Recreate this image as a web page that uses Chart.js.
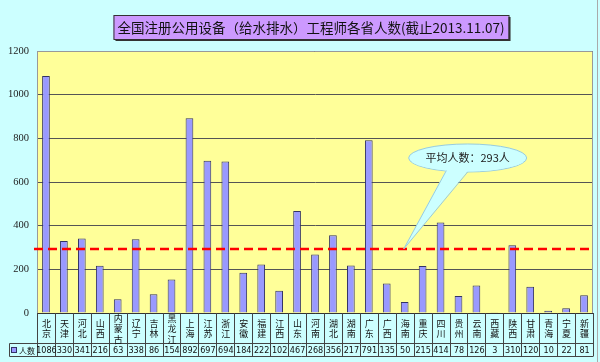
<!DOCTYPE html>
<html>
<head>
<meta charset="utf-8">
<script src="https://cdn.jsdelivr.net/npm/chart.js@4.4.0/dist/chart.umd.min.js"></script>
<style>
  html, body { margin: 0; padding: 0; background: #ccffff; }
  #wrap { width: 600px; height: 362px; }
</style>
</head>
<body>
<div id="wrap"><canvas id="chart"></canvas></div>
<script>
// data
const provinces = ["北京","天津","河北","山西","内蒙古","辽宁","吉林","黑龙江","上海","江苏","浙江","安徽","福建","江西","山东","河南","湖北","湖南","广东","广西","海南","重庆","四川","贵州","云南","西藏","陕西","甘肃","青海","宁夏","新疆"];
const counts = [1086,330,341,216,63,338,86,154,892,697,694,184,222,102,467,268,356,217,791,135,50,215,414,78,126,3,310,120,10,22,81];
const yTicks = [0,200,400,600,800,1000,1200];
const average = 293;
const seriesName = "人数";
const titleText = "全国注册公用设备（给水排水）工程师各省人数(截止2013.11.07)";
const calloutText = "平均人数：293人";

const CJK = '"Noto Sans CJK SC", "DejaVu Sans", sans-serif';
const NUM = '"Liberation Sans Narrow", "DejaVu Sans Condensed", "Liberation Sans", sans-serif';

// background, plot fill, avg line, callout, title box, data table
const decor = {
  id: 'decor',
  beforeDraw(chart) {
    const { ctx, chartArea: a } = chart;
    ctx.save();
    ctx.fillStyle = '#ccffff';
    ctx.fillRect(0, 0, chart.width, chart.height);
    ctx.fillStyle = '#ffff99';
    ctx.fillRect(a.left, a.top, a.right - a.left, a.bottom - a.top);
    ctx.restore();
  },
  afterDatasetsDraw(chart) {
    const { ctx, chartArea: a, scales: { x, y } } = chart;
    ctx.save();
    // plot border top/right
    ctx.strokeStyle = '#999999';
    ctx.lineWidth = 1;
    ctx.beginPath();
    ctx.moveTo(a.left, a.top + 0.5);
    ctx.lineTo(a.right - 0.5, a.top + 0.5);
    ctx.lineTo(a.right - 0.5, a.bottom);
    ctx.stroke();

    // average line
    const ay = y.getPixelForValue(average);
    ctx.strokeStyle = '#ff0000';
    ctx.lineWidth = 2.5;
    ctx.setLineDash([9, 5]);
    ctx.beginPath();
    ctx.moveTo(a.left - 3, ay);
    ctx.lineTo(a.right, ay);
    ctx.stroke();
    ctx.setLineDash([]);

    // callout
    const tipX = x.getPixelForValue(20) - 1;
    const cx = tipX + 64, cy = y.getPixelForValue(710);
    ctx.fillStyle = '#ccffff';
    ctx.strokeStyle = '#99ccdd';
    ctx.lineWidth = 1;
    ctx.beginPath();
    ctx.ellipse(cx, cy, 59, 14, 0, 0, Math.PI * 2);
    ctx.fill();
    ctx.stroke();
    ctx.beginPath();
    ctx.moveTo(cx - 21, cy + 11);
    ctx.lineTo(tipX, ay);
    ctx.lineTo(cx, cy + 13);
    ctx.closePath();
    ctx.fill();
    ctx.beginPath();
    ctx.moveTo(cx - 21, cy + 12);
    ctx.lineTo(tipX, ay);
    ctx.lineTo(cx, cy + 14);
    ctx.stroke();
    ctx.beginPath();
    ctx.ellipse(cx, cy, 58.5, 13.5, 0, 0.3, Math.PI - 0.3);
    ctx.fill();
    ctx.fillStyle = '#222222';
    ctx.font = '11px ' + CJK;
    ctx.textAlign = 'center';
    ctx.textBaseline = 'middle';
    ctx.fillText(calloutText, cx, cy);
    ctx.restore();
  },
  afterDraw(chart) {
    const { ctx, chartArea: a, scales: { x } } = chart;
    ctx.save();

    // title box
    ctx.font = '13.5px ' + CJK;
    const tw = ctx.measureText(titleText).width;
    const bx = 311 - tw / 2 - 4, by = 15, bw = tw + 8, bh = 24;
    ctx.fillStyle = '#333333';
    ctx.fillRect(bx + 2, by + 2, bw, bh);
    ctx.fillStyle = '#cc99ff';
    ctx.fillRect(bx, by, bw, bh);
    ctx.strokeStyle = '#333333';
    ctx.lineWidth = 1;
    ctx.strokeRect(bx + 0.5, by + 0.5, bw, bh);
    ctx.fillStyle = '#111111';
    ctx.textAlign = 'center';
    ctx.textBaseline = 'middle';
    ctx.fillText(titleText, 311, by + bh / 2 + 1);

    // data table
    const n = provinces.length;
    const cw = (a.right - a.left) / n;
    const row1 = a.bottom, row2 = a.bottom + 30.5, row3 = a.bottom + 43.5;
    ctx.strokeStyle = '#444444';
    ctx.lineWidth = 1;
    ctx.beginPath();
    for (let i = 0; i <= n; i++) {
      const lx = Math.round(x.getPixelForValue(i) - cw / 2) + 0.5;
      ctx.moveTo(lx, row1);
      ctx.lineTo(lx, row3);
    }
    ctx.moveTo(9.5, row2); ctx.lineTo(a.right, row2);
    ctx.moveTo(9.5, row3); ctx.lineTo(a.right, row3);
    ctx.moveTo(9.5, row2); ctx.lineTo(9.5, row3);
    ctx.stroke();

    // category labels, one character per line, centred in the row
    ctx.font = '9px ' + CJK;
    ctx.fillStyle = '#111111';
    ctx.textAlign = 'center';
    ctx.textBaseline = 'middle';
    const mid = (row1 + row2) / 2 + 0.5;
    const lh = 10.5;
    provinces.forEach((p, i) => {
      const chars = p.split('');
      const top = mid - (chars.length - 1) * lh / 2;
      chars.forEach((c, k) => ctx.fillText(c, x.getPixelForValue(i) + 0.5, top + k * lh));
    });

    ctx.font = '9px ' + NUM;
    const vy = (row2 + row3) / 2;
    counts.forEach((v, i) => ctx.fillText(String(v), x.getPixelForValue(i) + 0.5, vy + 0.5));

    // legend key
    ctx.fillStyle = '#9999ff';
    ctx.fillRect(11, vy - 3, 6, 6);
    ctx.strokeStyle = '#333366';
    ctx.strokeRect(11.5, vy - 2.5, 5, 5);
    ctx.fillStyle = '#111111';
    ctx.font = '8px ' + CJK;
    ctx.textAlign = 'left';
    ctx.fillText(seriesName, 19, vy + 0.5);

    // outer border
    ctx.strokeStyle = '#aaaaaa';
    ctx.beginPath();
    ctx.moveTo(597.5, 0); ctx.lineTo(597.5, 362);
    ctx.stroke();
    ctx.restore();
  }
};

new Chart(document.getElementById('chart'), {
  type: 'bar',
  data: {
    labels: provinces,
    datasets: [{
      label: seriesName,
      data: counts,
      backgroundColor: '#9999ff',
      borderColor: '#333366',
      borderWidth: 1,
      categoryPercentage: 1,
      barPercentage: 0.43
    }]
  },
  options: {
    responsive: true,
    maintainAspectRatio: false,
    animation: false,
    devicePixelRatio: 1,
    layout: { padding: { top: 51, right: 7, left: 0, bottom: 0 } },
    plugins: { legend: { display: false }, tooltip: { enabled: false }, title: { display: false } },
    scales: {
      x: {
        afterFit: s => { s.height = 49; },
        grid: { display: false, drawTicks: false },
        border: { color: '#333333' },
        ticks: { display: false, autoSkip: false }
      },
      y: {
        min: 0, max: 1200,
        afterFit: s => { s.width = 37; },
        afterBuildTicks: s => { s.ticks = yTicks.map(v => ({ value: v })); },
        grid: { color: '#555555', drawTicks: false },
        border: { color: '#999999' },
        ticks: {
          padding: 8, color: '#222222',
          font: { family: '"Liberation Serif", serif', size: 10.5 },
          callback: v => String(v)
        }
      }
    }
  },
  plugins: [decor]
});
</script>
</body>
</html>
